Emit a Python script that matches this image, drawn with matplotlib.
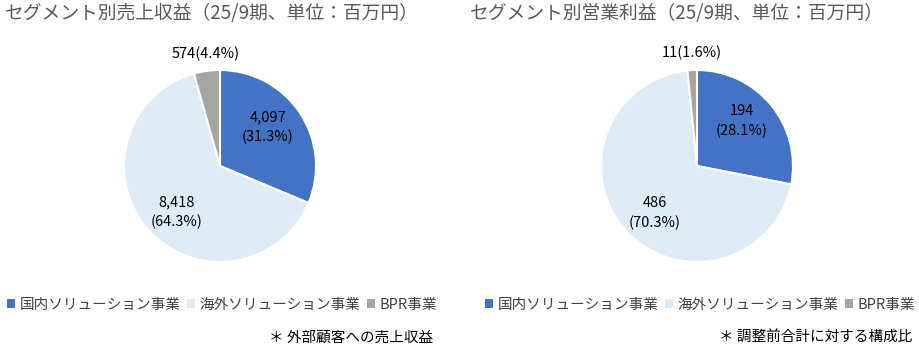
import matplotlib
matplotlib.use('Agg')

import matplotlib.pyplot as plt
from matplotlib.patches import Patch
import numpy as np

plt.rcParams['font.family'] = ['Noto Sans CJK JP', 'DejaVu Sans']

segments = ['国内ソリューション事業', '海外ソリューション事業', 'BPR事業']
colors = ['#4472C4', '#DEEBF7', '#A5A5A5']

sales = [4097, 8418, 574]
sales_pct = [31.3, 64.3, 4.4]
profit = [194, 486, 11]
profit_pct = [28.1, 70.3, 1.6]

titles = ['セグメント別売上収益（25/9期、単位：百万円）',
          'セグメント別営業利益（25/9期、単位：百万円）']
notes = ['＊ 外部顧客への売上収益', '＊ 調整前合計に対する構成比']

W, H = 919, 352
fig = plt.figure(figsize=(W / 100, H / 100), dpi=100)


def draw_pie(cx, values, pcts):
    r = 96
    ax = fig.add_axes([(cx - r) / W, (H - 166 - r) / H, 2 * r / W, 2 * r / H])
    wedges, _ = ax.pie(values, colors=colors, startangle=90, counterclock=False,
                       wedgeprops=dict(edgecolor='white', linewidth=1.5))
    ax.set_xlim(-1, 1)
    ax.set_ylim(-1, 1)
    ax.set_aspect('equal')
    ax.axis('off')
    for w, v, p in zip(wedges, values, pcts):
        mid = np.deg2rad((w.theta1 + w.theta2) / 2)
        if p < 10:
            ax.text(1.12 * np.cos(mid), 1.1 * np.sin(mid), f'{v:,}({p}%)',
                    ha='center', va='bottom', fontsize=10.5, color='black')
        else:
            ax.text(0.6 * np.cos(mid), 0.73 * np.sin(mid), f'{v:,}\n({p}%)',
                    ha='center', va='center', fontsize=10.5, color='black',
                    linespacing=1.5)
    return ax


draw_pie(220, sales, sales_pct)
draw_pie(697, profit, profit_pct)

fig.text(5 / W, 1 - 14 / H, titles[0], fontsize=13.5, color='#595959',
         ha='left', va='center')
fig.text(470 / W, 1 - 14 / H, titles[1], fontsize=13.5, color='#595959',
         ha='left', va='center')

handles = [Patch(facecolor=c, edgecolor='none') for c in colors]
for x in [222 / W, 700 / W]:
    fig.legend(handles, segments, loc='center', bbox_to_anchor=(x, 1 - 305 / H),
               ncol=3, frameon=False, fontsize=10.5, handlelength=0.55,
               handleheight=0.55, handletextpad=0.3, columnspacing=0.45,
               labelcolor='#404040')

fig.text(433 / W, 1 - 338 / H, notes[0], fontsize=10.5, color='black',
         ha='right', va='center')
fig.text(912 / W, 1 - 338 / H, notes[1], fontsize=10.5, color='black',
         ha='right', va='center')

fig.savefig('out.png', dpi=100)
